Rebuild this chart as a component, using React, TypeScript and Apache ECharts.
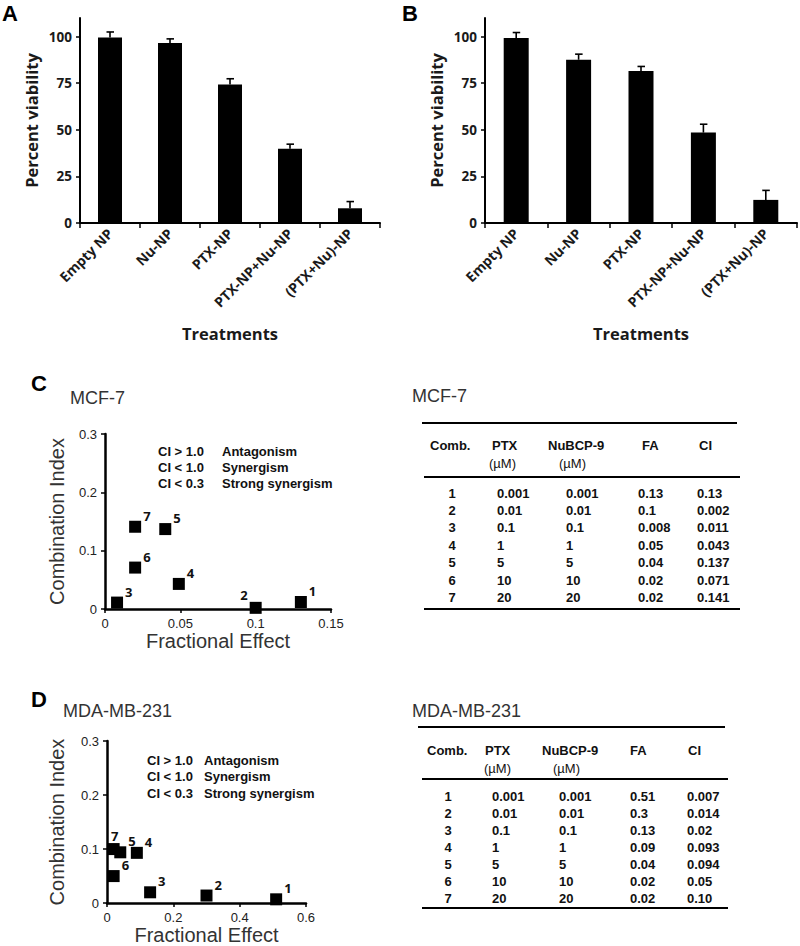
import React, { useEffect, useRef } from "react";
import * as echarts from "echarts";

// ---------- data ----------
const treatments = ["Empty NP", "Nu-NP", "PTX-NP", "PTX-NP+Nu-NP", "(PTX+Nu)-NP"];
const viabilityA = [99.5, 96.6, 74.3, 39.8, 7.9];
const errorA = [3.0, 2.2, 3.1, 2.5, 3.6];
const viabilityB = [99.3, 87.6, 81.6, 48.5, 12.4];
const errorB = [2.9, 3.0, 2.4, 4.5, 5.1];
const viabilityTicks = [0, 25, 50, 75, 100];

const combIds = [1, 2, 3, 4, 5, 6, 7];
const ptxConc = ["0.001", "0.01", "0.1", "1", "5", "10", "20"];
const nuConc = ["0.001", "0.01", "0.1", "1", "5", "10", "20"];
const faTableC = ["0.13", "0.1", "0.008", "0.05", "0.04", "0.02", "0.02"];
const ciTableC = ["0.13", "0.002", "0.011", "0.043", "0.137", "0.071", "0.141"];
const faTableD = ["0.51", "0.3", "0.13", "0.09", "0.04", "0.02", "0.02"];
const ciTableD = ["0.007", "0.014", "0.02", "0.093", "0.094", "0.05", "0.10"];

// plotted points
const faPlotC = [0.13, 0.1, 0.008, 0.049, 0.04, 0.02, 0.02];
const ciPlotC = [0.012, 0.002, 0.011, 0.043, 0.137, 0.071, 0.141];
const faPlotD = [0.51, 0.3, 0.13, 0.09, 0.04, 0.02, 0.02];
const ciPlotD = [0.007, 0.014, 0.02, 0.093, 0.094, 0.05, 0.1];

const ciLegendKeys = ["CI > 1.0", "CI < 1.0", "CI < 0.3"];
const ciLegendText = ["Antagonism", "Synergism", "Strong synergism"];
const tableHeaders = ["Comb.", "PTX", "NuBCP-9", "FA", "CI"];
const unitLabel = "(\u00b5M)";

// ---------- style ----------
const SANS = "'Liberation Sans', Arial, sans-serif";
const CAL = "'Open Sans', 'Noto Sans', sans-serif";
const labelPlaceC: Record<number, any> = { 2: { position: "left", offset: [0, -13] } };
const labelPlaceD: Record<number, any> = { 7: { position: "top", distance: 1, offset: [1, 0] } };

function errorSeries(vals: number[], errs: number[], idx: number) {
  return {
    type: "custom",
    xAxisIndex: idx,
    yAxisIndex: idx,
    z: 3,
    data: vals.map((v, i) => [i, v, v + errs[i]]),
    renderItem: (_p: any, api: any) => {
      const lo = api.coord([api.value(0), api.value(1)]);
      const hi = api.coord([api.value(0), api.value(2)]);
      const style = { stroke: "#000", lineWidth: 1.6 };
      return {
        type: "group",
        children: [
          { type: "line", shape: { x1: lo[0], y1: lo[1], x2: hi[0], y2: hi[1] }, style },
          { type: "line", shape: { x1: hi[0] - 3.5, y1: hi[1], x2: hi[0] + 4, y2: hi[1] }, style },
        ],
      };
    },
  };
}

function barAxes(idx: number) {
  const x = {
    type: "category",
    gridIndex: idx,
    data: treatments,
    boundaryGap: true,
    axisLine: { lineStyle: { color: "#000", width: 2 } },
    axisTick: { show: true, length: 5, lineStyle: { color: "#000", width: 1.5 } },
    axisLabel: {
      interval: 0,
      rotate: 45,
      margin: 8,
      color: "#1a1a1a",
      fontFamily: CAL,
      fontWeight: "bold",
      fontSize: 14,
    },
    name: "Treatments",
    nameLocation: "middle",
    nameGap: 102,
    nameTextStyle: { fontFamily: CAL, fontWeight: "bold", fontSize: 16.5, color: "#1a1a1a" },
  };
  const y = {
    type: "value",
    gridIndex: idx,
    min: 0,
    max: 110,
    splitLine: { show: false },
    axisLine: { show: true, lineStyle: { color: "#000", width: 2 } },
    axisTick: { show: true, length: 4, customValues: viabilityTicks, lineStyle: { color: "#000", width: 1.5 } },
    axisLabel: {
      customValues: viabilityTicks,
      margin: 8,
      color: "#1a1a1a",
      fontFamily: CAL,
      fontWeight: "bold",
      fontSize: 13.5,
    },
    name: "Percent viability",
    nameLocation: "middle",
    nameGap: 40,
    nameTextStyle: { fontFamily: CAL, fontWeight: "bold", fontSize: 16.5, color: "#1a1a1a" },
  };
  return { x, y };
}

function scatterAxes(idx: number, xmax: number, xint: number, ygap: number, xgap: number) {
  const axisLine = { show: true, onZero: false, lineStyle: { color: "#000", width: 2.5 } };
  const axisTick = { show: true, length: 4, lineStyle: { color: "#000", width: 1.5 } };
  const axisLabel = { color: "#222", fontFamily: SANS, fontSize: 13, margin: 8 };
  const nameTextStyle = { fontFamily: SANS, fontSize: 20, color: "#333" };
  return {
    x: {
      type: "value",
      gridIndex: idx,
      min: 0,
      max: xmax,
      interval: xint,
      splitLine: { show: false },
      axisLine,
      axisTick,
      axisLabel,
      name: "Fractional Effect",
      nameLocation: "middle",
      nameGap: xgap,
      nameTextStyle,
    },
    y: {
      type: "value",
      gridIndex: idx,
      min: 0,
      max: 0.3,
      interval: 0.1,
      splitLine: { show: false },
      axisLine,
      axisTick,
      axisLabel,
      name: "Combination Index",
      nameLocation: "middle",
      nameGap: ygap,
      nameTextStyle,
    },
  };
}

function scatterSeries(fa: number[], ci: number[], idx: number, place: Record<number, any>) {
  return {
    type: "scatter",
    xAxisIndex: idx,
    yAxisIndex: idx,
    symbol: "rect",
    symbolSize: 12,
    itemStyle: { color: "#000", opacity: 1 },
    label: {
      show: true,
      formatter: (p: any) => p.name,
      position: "right",
      distance: 2,
      offset: [0, -11],
      fontFamily: CAL,
      fontWeight: "bold",
      fontSize: 13,
      color: "#111",
    },
    data: fa.map((x, i) => {
      const item: any = { name: String(combIds[i]), value: [x, ci[i]] };
      if (place[combIds[i]]) item.label = place[combIds[i]];
      return item;
    }),
  };
}

function txt(x: number, y: number, text: string, font: any, align = "left") {
  return {
    type: "text",
    x,
    y,
    style: {
      text,
      fill: font.color || "#111",
      fontFamily: font.family || SANS,
      fontSize: font.size || 13,
      fontWeight: font.weight || "normal",
      align,
      verticalAlign: "middle",
    },
  };
}

function hline(x1: number, x2: number, y: number) {
  return { type: "line", shape: { x1, y1: y, x2, y2: y }, style: { stroke: "#000", lineWidth: 2.2 } };
}

function legendBlock(x1: number, x2: number, y0: number, dy: number) {
  const out: any[] = [];
  ciLegendKeys.forEach((k, i) => {
    out.push(txt(x1, y0 + i * dy, k, { weight: "bold", size: 13 }));
    out.push(txt(x2, y0 + i * dy, ciLegendText[i], { weight: "bold", size: 13 }));
  });
  return out;
}

function table(cfg: any, fa: string[], ci: string[]) {
  const out: any[] = [];
  out.push(txt(cfg.titleX, cfg.titleY, cfg.title, { size: 18, color: "#333" }));
  out.push(hline(cfg.line1[0], cfg.line1[1], cfg.line1[2]));
  out.push(hline(cfg.line2[0], cfg.line2[1], cfg.line2[2]));
  out.push(hline(cfg.line3[0], cfg.line3[1], cfg.line3[2]));
  tableHeaders.forEach((h, i) => {
    out.push(txt(cfg.headX[i], cfg.headY, h, { weight: "bold", size: 13 }));
  });
  out.push(txt(cfg.unitX[0], cfg.headY + 18, unitLabel, { size: 13 }));
  out.push(txt(cfg.unitX[1], cfg.headY + 18, unitLabel, { size: 13 }));
  combIds.forEach((c, i) => {
    const y = cfg.rowY + i * cfg.rowDy;
    out.push(txt(cfg.colX[0], y, String(c), { weight: "bold", size: 13 }, "center"));
    out.push(txt(cfg.colX[1], y, ptxConc[i], { weight: "bold", size: 13 }));
    out.push(txt(cfg.colX[2], y, nuConc[i], { weight: "bold", size: 13 }));
    out.push(txt(cfg.colX[3], y, fa[i], { weight: "bold", size: 13 }));
    out.push(txt(cfg.colX[4], y, ci[i], { weight: "bold", size: 13 }));
  });
  return out;
}

export default function App() {
  const ref = useRef<HTMLDivElement>(null);
  useEffect(() => {
    if (!ref.current) return;
    const chart = echarts.init(ref.current, null, { renderer: "svg" });
    const a = barAxes(0);
    const b = barAxes(1);
    const c = scatterAxes(2, 0.15, 0.05, 38, 17);
    const d = scatterAxes(3, 0.6, 0.2, 40, 16);

    const graphics: any[] = [
      txt(2, 13, "A", { weight: "bold", size: 22, color: "#000" }),
      txt(402, 13, "B", { weight: "bold", size: 22, color: "#000" }),
      txt(31, 383, "C", { weight: "bold", size: 22, color: "#000" }),
      txt(31, 699, "D", { weight: "bold", size: 22, color: "#000" }),
      txt(70, 398, "MCF-7", { size: 18, color: "#333" }),
      txt(63, 711, "MDA-MB-231", { size: 18, color: "#333" }),
      ...legendBlock(158, 222, 451, 16),
      ...legendBlock(147, 204, 760, 16.5),
      ...table(
        {
          title: "MCF-7",
          titleX: 412,
          titleY: 396,
          line1: [422, 737, 423],
          line2: [424, 740, 477],
          line3: [424, 740, 609],
          headX: [430, 492, 548, 642, 699],
          headY: 445,
          unitX: [489, 559],
          rowY: 493,
          rowDy: 17.4,
          colX: [452, 497, 566, 638, 697],
        },
        faTableC,
        ciTableC
      ),
      ...table(
        {
          title: "MDA-MB-231",
          titleX: 412,
          titleY: 711,
          line1: [418, 725, 727],
          line2: [422, 728, 779],
          line3: [422, 728, 908],
          headX: [427, 485, 542, 630, 688],
          headY: 750,
          unitX: [484, 553],
          rowY: 796,
          rowDy: 17,
          colX: [448, 492, 559, 630, 687],
        },
        faTableD,
        ciTableD
      ),
    ];

    chart.setOption({
      animation: false,
      backgroundColor: "#fff",
      grid: [
        { left: 80, top: 18, width: 300, height: 205 },
        { left: 485, top: 18, width: 312, height: 205 },
        { left: 105, top: 434, width: 226, height: 175 },
        { left: 107, top: 741, width: 199, height: 165 },
      ],
      xAxis: [a.x, b.x, c.x, d.x],
      yAxis: [a.y, b.y, c.y, d.y],
      series: [
        { type: "bar", xAxisIndex: 0, yAxisIndex: 0, data: viabilityA, barWidth: 24, itemStyle: { color: "#000" } },
        errorSeries(viabilityA, errorA, 0),
        { type: "bar", xAxisIndex: 1, yAxisIndex: 1, data: viabilityB, barWidth: 25, itemStyle: { color: "#000" } },
        errorSeries(viabilityB, errorB, 1),
        scatterSeries(faPlotC, ciPlotC, 2, labelPlaceC),
        scatterSeries(faPlotD, ciPlotD, 3, labelPlaceD),
      ],
      graphic: graphics,
    });
    return () => chart.dispose();
  }, []);
  return (
    <div
      ref={ref}
      style={{ position: "absolute", left: 0, top: 0, width: 800, height: 946, background: "#fff" }}
    />
  );
}
